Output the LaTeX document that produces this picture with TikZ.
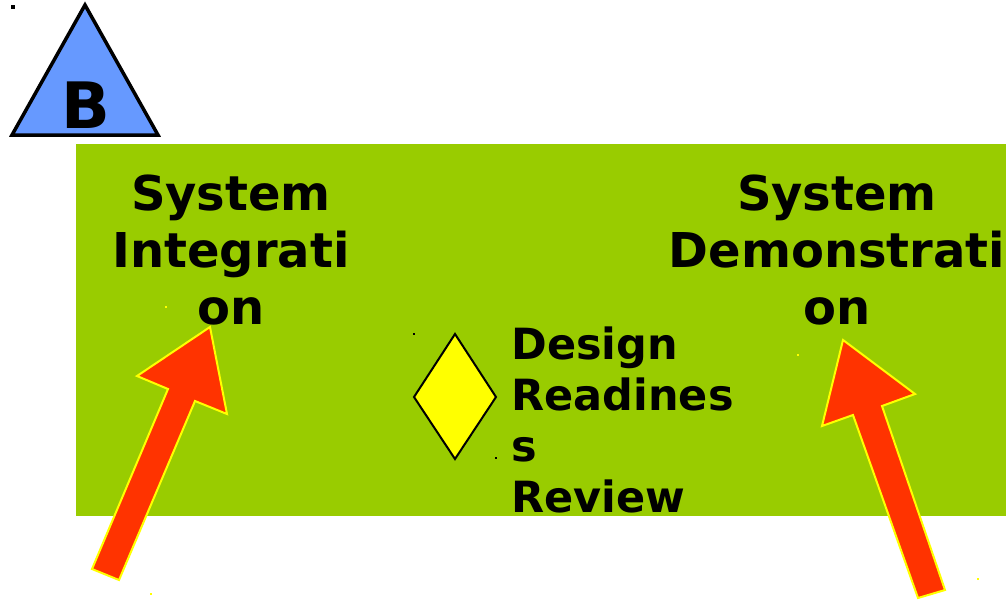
\documentclass[tikz,border=0pt]{standalone}
\usepackage{fontspec}
\setmainfont{DejaVu Sans}
\usetikzlibrary{positioning}
\definecolor{leafgreen}{HTML}{99CC00}
\definecolor{triblue}{HTML}{6699FF}
\definecolor{arrowred}{HTML}{FF3300}
\definecolor{gateyellow}{HTML}{FFFF00}

\begin{document}
\begin{tikzpicture}[x=0.5pt,y=-0.5pt,
	phase/.style={font=\fontsize{24}{28.5}\selectfont\bfseries,align=center,inner sep=0pt,anchor=north},
	review/.style={font=\fontsize{21.5}{25.5}\selectfont\bfseries,align=left,inner sep=0pt,anchor=north west},
	blockarrow/.style={fill=arrowred,draw=gateyellow,line width=1pt,line join=miter}]
			\useasboundingbox (0,0) rectangle (1006,600);

			\coordinate (T1) at (85,5);
			\coordinate (T2) at (12,135);
			\coordinate (T3) at (158,135);

			\coordinate (D1) at (455,334);
			\coordinate (D2) at (414,397);
			\coordinate (D3) at (455,459);
			\coordinate (D4) at (496,397);

			\coordinate (L1) at (92,569);
			\coordinate (L2) at (168,389);
			\coordinate (L3) at (137,376);
			\coordinate (L4) at (210,327);
			\coordinate (L5) at (227,414);
			\coordinate (L6) at (195,401);
			\coordinate (L7) at (119,580);

			\coordinate (R1) at (918,598);
			\coordinate (R2) at (853,415);
			\coordinate (R3) at (822,426);
			\coordinate (R4) at (843,340);
			\coordinate (R5) at (915,394);
			\coordinate (R6) at (882,406);
			\coordinate (R7) at (945,590);

			\fill[leafgreen] (76,144) rectangle (1006,516);
			\draw[line width=1.75pt,fill=triblue] (T1)--(T2)--(T3)--cycle;
			\fill (11,5) rectangle (15,9);
			\node[font=\fontsize{32}{38}\selectfont\bfseries,anchor=base,inner sep=0pt] (mark) at (86,128) {B};

			\node[phase] (sysint) at (231,174) {System\\Integrati\\on};
			\node[phase] (sysdemo) at (837,174) {System\\Demonstrati\\on};

			\draw[line width=1pt,fill=gateyellow] (D1)--(D2)--(D3)--(D4)--cycle;
			\fill (413,333) rectangle (415,335);
			\fill (495,457) rectangle (497,459);
			\node[review] (drr) at (511,326) {Design\\Readines\\s\\Review};

			\draw[blockarrow] (L1)--(L2)--(L3)--(L4)--(L5)--(L6)--(L7)--cycle;
			\draw[blockarrow] (R1)--(R2)--(R3)--(R4)--(R5)--(R6)--(R7)--cycle;
			\fill[gateyellow] (165,306) rectangle (167,308);
			\fill[gateyellow] (150,593) rectangle (152,595);
			\fill[gateyellow] (797,354) rectangle (799,356);
			\fill[gateyellow] (977,578) rectangle (979,580);
		\end{tikzpicture}
\end{document}
